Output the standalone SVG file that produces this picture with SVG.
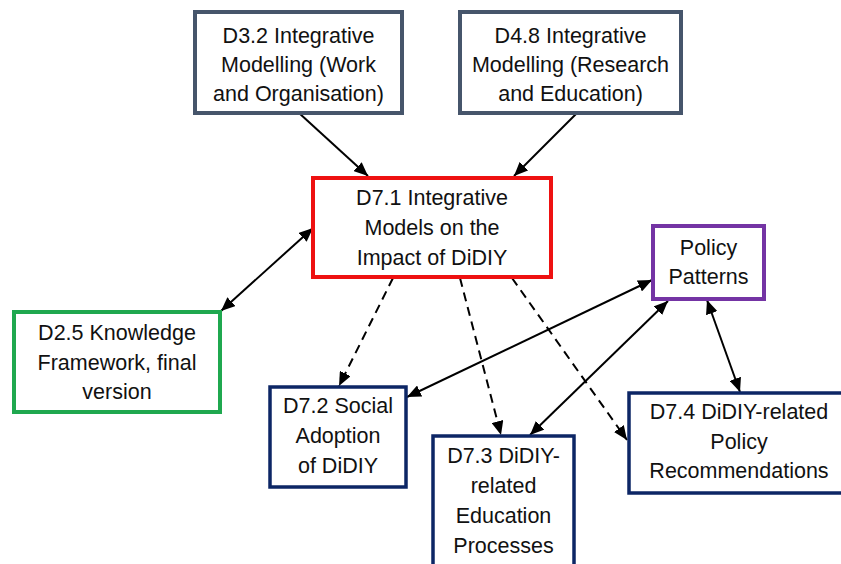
<svg xmlns="http://www.w3.org/2000/svg" width="841" height="564" viewBox="0 0 841 564">
<defs>
<marker id="ah" viewBox="0 0 14 12" refX="14" refY="6" markerWidth="14" markerHeight="12" markerUnits="userSpaceOnUse" orient="auto-start-reverse">
<path d="M0,0 L14,6 L0,12 Z" fill="#000"/>
</marker>
<style>
.box{fill:#fff;stroke-width:4}
.gray{stroke:#46556b}
.red{stroke:#ee1111}
.green{stroke:#1fa84f}
.navy{stroke:#0c2665;stroke-width:3.5}
.purple{stroke:#7434a4}
text{font-family:"Liberation Sans",Arial,sans-serif;font-size:21.5px;fill:#111;text-anchor:middle}
.c{stroke:#000;stroke-width:2;fill:none}
.d{stroke-dasharray:9,6}
</style>
</defs>
<rect width="841" height="564" fill="#fff"/>
<g id="connectors">
<line class="c" x1="299" y1="113" x2="368" y2="176" marker-end="url(#ah)"/>
<line class="c" x1="577" y1="113" x2="514" y2="176" marker-end="url(#ah)"/>
<line class="c" x1="221" y1="311" x2="313" y2="228" marker-start="url(#ah)" marker-end="url(#ah)"/>
<line class="c d" x1="393" y1="278" x2="339" y2="386" marker-end="url(#ah)"/>
<line class="c d" x1="460" y1="278" x2="501" y2="435" marker-end="url(#ah)"/>
<line class="c d" x1="512" y1="278" x2="627" y2="440" marker-end="url(#ah)"/>
<line class="c" x1="407" y1="397" x2="652" y2="280" marker-start="url(#ah)" marker-end="url(#ah)"/>
<line class="c" x1="530" y1="435" x2="668" y2="301" marker-start="url(#ah)" marker-end="url(#ah)"/>
<line class="c" x1="707" y1="300" x2="740" y2="392" marker-start="url(#ah)" marker-end="url(#ah)"/>
</g>
<g id="d32">
<rect class="box gray" x="195" y="12" width="207" height="101"/>
<text x="298.5" y="43">D3.2 Integrative</text>
<text x="298.5" y="72">Modelling (Work</text>
<text x="298.5" y="101">and Organisation)</text>
</g>
<g id="d48">
<rect class="box gray" x="460" y="12" width="221" height="101"/>
<text x="570.5" y="43">D4.8 Integrative</text>
<text x="570.5" y="72">Modelling (Research</text>
<text x="570.5" y="101">and Education)</text>
</g>
<g id="d71">
<rect class="box red" x="313" y="178" width="238" height="99"/>
<text x="432" y="205">D7.1 Integrative</text>
<text x="432" y="235">Models on the</text>
<text x="432" y="265">Impact of DiDIY</text>
</g>
<g id="d25">
<rect class="box green" x="14" y="312" width="206" height="100"/>
<text x="117" y="340">D2.5 Knowledge</text>
<text x="117" y="370">Framework, final</text>
<text x="117" y="399">version</text>
</g>
<g id="policy">
<rect class="box purple" x="653" y="226" width="111" height="73"/>
<text x="708.5" y="255">Policy</text>
<text x="708.5" y="284">Patterns</text>
</g>
<g id="d72">
<rect class="box navy" x="270" y="387" width="136" height="100"/>
<text x="338" y="413">D7.2 Social</text>
<text x="338" y="443">Adoption</text>
<text x="338" y="473">of DiDIY</text>
</g>
<g id="d73">
<rect class="box navy" x="433" y="436" width="141" height="140"/>
<text x="503.5" y="463">D7.3 DiDIY-</text>
<text x="503.5" y="493">related</text>
<text x="503.5" y="523">Education</text>
<text x="503.5" y="553">Processes</text>
</g>
<g id="d74">
<rect class="box navy" x="629" y="393" width="218" height="100"/>
<text x="739" y="419">D7.4 DiDIY-related</text>
<text x="739" y="449">Policy</text>
<text x="739" y="478">Recommendations</text>
</g>
</svg>
